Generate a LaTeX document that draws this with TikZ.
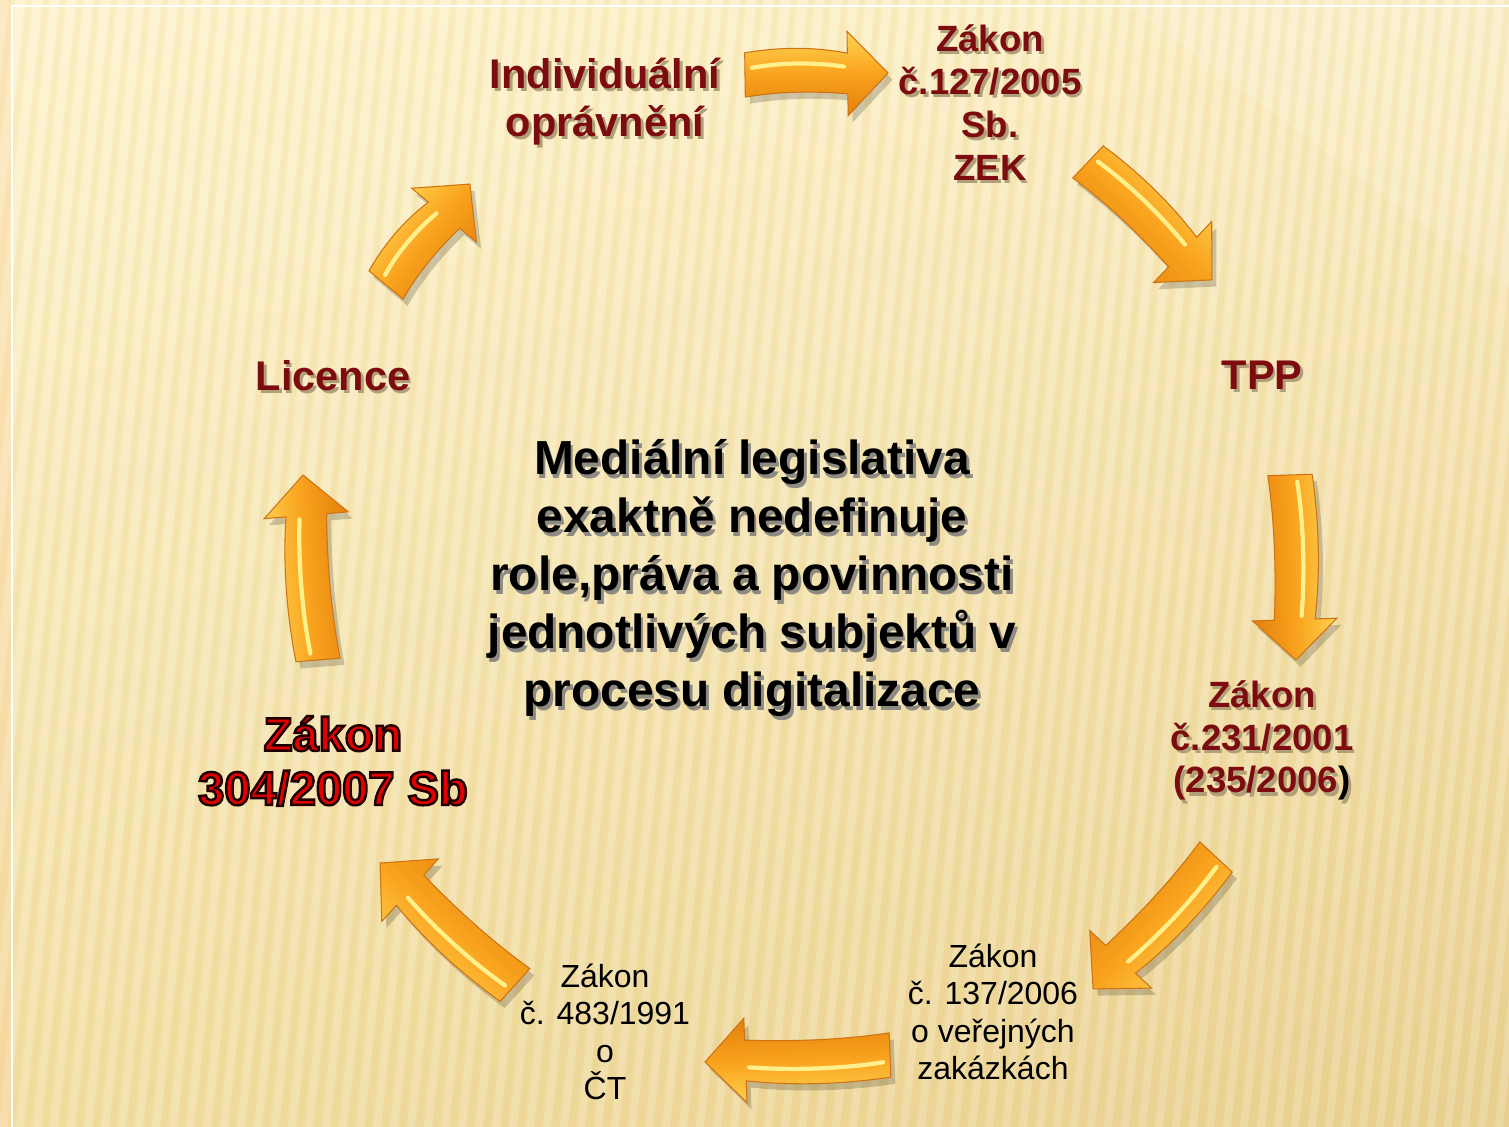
\documentclass[tikz,border=0pt]{standalone}
\usepackage{fontspec}
\setmainfont{Liberation Sans}
\usepackage{tikz}
\usetikzlibrary{shadings}
\definecolor{lawred}{RGB}{125,12,16}
\definecolor{lawshadow}{RGB}{175,160,122}
\definecolor{hotred}{RGB}{228,0,0}
\definecolor{midgray}{RGB}{140,138,130}
\definecolor{bgA}{RGB}{253,243,204}
\definecolor{bgB}{RGB}{251,236,190}
\definecolor{bgC}{RGB}{242,222,160}
\definecolor{bgD}{RGB}{232,207,142}
\definecolor{arrlight}{RGB}{255,214,84}
\definecolor{arrmid}{RGB}{249,163,30}
\definecolor{arrdark}{RGB}{228,128,12}
\definecolor{arredge}{RGB}{205,115,20}
\definecolor{arrshine}{RGB}{255,240,140}

% text with a soft drop shadow
\newcommand{\shd}[2][lawshadow]{\leavevmode\rlap{\kern0.8pt\raisebox{-0.9pt}{\textcolor{#1}{#2}}}#2}
% red letters with a dark outline
\newcommand{\outl}[1]{\special{pdf:literal 0.12 0 0 RG 0.7 w 2 Tr}#1\special{pdf:literal 0 Tr}}

\newcommand{\arrowbody}{(0,-6.3pt) .. controls ({0.33*\fneck pt},-4.8pt) and ({0.67*\fneck pt},-4.8pt) .. (\fneck pt,-5.8pt) -- (\fneck pt,-12pt) -- (\flen pt,0) -- (\fneck pt,12pt) -- (\fneck pt,5.8pt) .. controls ({0.67*\fneck pt},7.8pt) and ({0.33*\fneck pt},7.8pt) .. (0,6.3pt) -- cycle}

\newcommand{\flowarrow}[2]{%
  \pgfpointdiff{\pgfpointanchor{#1}{center}}{\pgfpointanchor{#2}{center}}
  \pgfgetlastxy{\fdx}{\fdy}
  \pgfmathsetmacro\fang{atan2(\fdy,\fdx)}
  \pgfmathsetmacro\flen{veclen(\fdx,\fdy)}
  \pgfmathsetmacro\fneck{\flen-11.5}
  \begin{scope}[shift={(#1)},shift={(1.3pt,-1.9pt)},rotate=\fang]
    \fill[black,opacity=.18] \arrowbody;
  \end{scope}
  \begin{scope}[shift={(#1)},rotate=\fang]
    \shadedraw[top color=arrlight,bottom color=arrdark,middle color=arrmid,shading angle=\fang,draw=arredge,line width=.3pt] \arrowbody;
    \draw[arrshine,line width=1.2pt,line cap=round] (2pt,2pt) .. controls ({0.33*\fneck pt},3.4pt) and ({0.67*\fneck pt},3.4pt) .. ({\fneck pt-1pt},2pt);
  \end{scope}}

\tikzset{
  lawbig/.style={font=\bfseries\fontsize{11.8}{13.7}\selectfont, text=lawred, align=center, inner sep=0pt},
  lawmid/.style={font=\bfseries\fontsize{10.4}{12.2}\selectfont, text=lawred, align=center, inner sep=0pt},
  lawplain/.style={font=\fontsize{9.1}{10.6}\selectfont, text=black, align=center, inner sep=0pt},
  lawhot/.style={font=\bfseries\fontsize{13.4}{15.4}\selectfont, text=hotred, align=center, inner sep=0pt},
  centretext/.style={font=\bfseries\fontsize{13.6}{16.5}\selectfont, text=black, align=center, inner sep=0pt}
}

\begin{document}
\begin{tikzpicture}
\useasboundingbox (0,0) rectangle (15.09,11.27);
\shade[upper left=bgA, upper right=bgB, lower left=bgC, lower right=bgD] (0,0) rectangle (15.09,11.27);
\foreach \x in {0,0.17,...,16.6} {
  \fill[white,opacity=.18] (\x-1.2,0) -- (\x-1.12,0) -- (\x+0.08,11.27) -- (\x,11.27) -- cycle;
  \fill[bgD,opacity=.16] (\x-1.11,0) -- (\x-1.05,0) -- (\x+0.15,11.27) -- (\x+0.09,11.27) -- cycle;
}
\fill[white,opacity=.12] (11.2,11.27) -- (15.09,11.27) -- (15.09,8.4) -- cycle;
\fill[orange!40,opacity=.25] (0,0) rectangle (0.12,11.27);
\draw[white,line width=.7pt] (0.12,0) -- (0.12,11.21) -- (15.09,11.21);

% labels round the cycle
\node[lawbig] (indiv) at (6.05,10.24) {\shd{Individuální}\\\shd{oprávnění}};
\node[lawmid] (zak127) at (9.90,10.23) {\shd{Zákon}\\\shd{č.127/2005}\\\shd{Sb.}\\\shd{ZEK}};
\node[lawbig] (tpp) at (12.62,7.50) {\shd{TPP}};
\node[lawmid] (zak231) at (12.62,3.85) {\shd{Zákon}\\\shd{č.231/2001}\\\leavevmode\rlap{\kern0.8pt\raisebox{-0.9pt}{\textcolor{lawshadow}{(235/2006)}}}(235/2006\textcolor{black}{)}};
\node[lawplain] (zak137) at (9.93,1.15) {Zákon\\č. 137/2006\\o veřejných\\zakázkách};
\node[lawplain] (zak483) at (6.05,0.95) {Zákon\\č. 483/1991\\o\\ČT};
\node[lawhot] (zak304) at (3.33,3.66) {\outl{Zákon}\\\outl{304/2007 Sb}};
\node[lawbig] (licence) at (3.33,7.50) {\shd{Licence}};

\node[centretext] (centre) at (7.52,5.47) {\shd[midgray]{Mediální legislativa}\\\shd[midgray]{exaktně nedefinuje}\\\shd[midgray]{role,práva a povinnosti}\\\shd[midgray]{jednotlivých subjektů v}\\\shd[midgray]{procesu digitalizace}};

% arrow ends
\coordinate (t1) at (7.45,10.52); \coordinate (h1) at (8.88,10.54);
\coordinate (t2) at (10.88,9.65); \coordinate (h2) at (12.12,8.47);
\coordinate (t3) at (12.90,6.52); \coordinate (h3) at (12.96,4.67);
\coordinate (t4) at (12.16,2.70); \coordinate (h4) at (10.93,1.38);
\coordinate (t5) at (8.90,0.72);  \coordinate (h5) at (7.05,0.65);
\coordinate (t6) at (5.15,1.42);  \coordinate (h6) at (3.80,2.64);
\coordinate (t7) at (3.18,4.67);  \coordinate (h7) at (3.03,6.52);
\coordinate (t8) at (3.86,8.42);  \coordinate (h8) at (4.70,9.43);
\foreach \i in {1,...,8} \flowarrow{t\i}{h\i};

\end{tikzpicture}
\end{document}
